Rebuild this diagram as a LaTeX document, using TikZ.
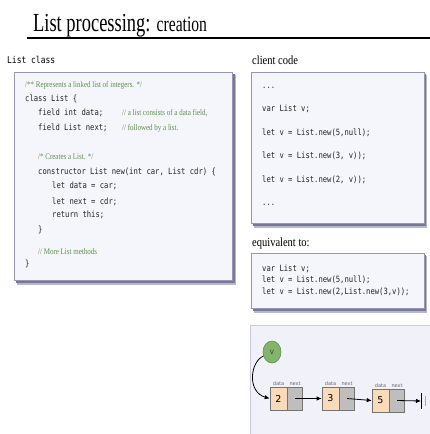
\documentclass[tikz,border=0pt]{standalone}
\usepackage{fontspec}
\setmainfont{Liberation Serif}
\newfontfamily\codefont{DejaVu Sans Mono}
\newfontfamily\labelfont{DejaVu Sans}
\usetikzlibrary{arrows.meta,shapes.geometric}

\definecolor{panelfill}{RGB}{245,245,252}
\definecolor{panelline}{RGB}{150,150,180}
\definecolor{shadowcol}{RGB}{95,95,140}
\definecolor{commentgreen}{RGB}{95,145,75}
\definecolor{codeink}{RGB}{35,35,35}
\definecolor{datafill}{RGB}{250,218,185}
\definecolor{nextfill}{RGB}{190,190,190}
\definecolor{cellline}{RGB}{115,115,115}
\definecolor{vfill}{RGB}{130,180,105}
\definecolor{vline}{RGB}{95,145,75}
\definecolor{diagfill}{RGB}{241,241,250}

% text is set tall and narrow, as on the slide
\tikzset{
  heading/.style={anchor=base west, inner sep=0pt, xscale=0.84, font=\fontsize{12.5}{14}\selectfont},
  code/.style={anchor=base west, inner sep=0pt, xscale=0.837, text=codeink, font=\codefont\fontsize{8.6}{10}\selectfont},
  comment/.style={anchor=base west, inner sep=0pt, xscale=0.814, text=commentgreen, font=\fontsize{8.6}{10}\selectfont},
  panel/.style={fill=panelfill, draw=panelline, line width=0.6pt},
  shadowsoft/.style={fill=shadowcol!45},
  shadowhard/.style={fill=shadowcol!85},
  datacell/.style={draw=cellline, fill=datafill, line width=0.6pt, minimum width=17pt, minimum height=23pt, inner sep=0pt, font=\labelfont\fontsize{9.5}{10}\selectfont},
  nextcell/.style={draw=cellline, fill=nextfill, line width=0.6pt, minimum width=15pt, minimum height=23pt, inner sep=0pt, anchor=west},
  celllabel/.style={anchor=south, inner sep=1pt, text=black!60, font=\labelfont\fontsize{5}{6}\selectfont},
  ptr/.style={-{Latex[length=5pt,width=4.5pt]}, line width=0.8pt, black},
}

\begin{document}
\begin{tikzpicture}[x=1pt,y=-1pt]
\useasboundingbox (0,0) rectangle (430,434);

% title and rule
\node[anchor=base west, inner sep=0pt, xscale=0.71] (title) at (33,31)
  {{\fontsize{26}{30}\selectfont List processing: }{\fontsize{22}{26}\selectfont creation}};
\draw[line width=1.4pt] (27,38) -- (430,38);

% section headings
\node[anchor=base west, inner sep=0pt, xscale=0.84, font=\codefont\fontsize{9.5}{11}\selectfont] (hclass) at (7,63) {List class};
\node[heading] (hclient) at (252,64) {client code};
\node[heading] (hequiv) at (252,246) {equivalent to:};

% panels with soft shadows
\fill[shadowsoft] (17,75) rectangle (236,285);
\fill[shadowhard] (16,74) rectangle (234.5,282.5);
\draw[panel] (14,72) rectangle (232,280);

\fill[shadowsoft] (254,75) rectangle (427,228);
\fill[shadowhard] (253,74) rectangle (425.5,225.5);
\draw[panel] (251,72) rectangle (424,223);

\fill[shadowsoft] (254,256) rectangle (427,313);
\fill[shadowhard] (253,255) rectangle (425.5,310.5);
\draw[panel] (251,253) rectangle (424,308);

\fill[diagfill] (250,325) rectangle (432,436);
\draw[panelline!50, line width=0.6pt] (250,436) -- (250,325) -- (432,325);

% class List
\node[comment] (c1) at (25,87.5) {/** Represents a linked list of integers. */};
\node[code] (l1) at (25,101.5) {class List \{};
\node[code] (l2) at (38,115.5) {field int data;};
\node[comment] (c2) at (122,115.5) {// a list consists of a data field,};
\node[code] (l3) at (38,130.5) {field List next;};
\node[comment] (c3) at (122,130.5) {// followed by a list.};
\node[comment] (c4) at (38,159) {/* Creates a List. */};
\node[code] (l4) at (38,174.5) {constructor List new(int car, List cdr) \{};
\node[code] (l5) at (52,188.5) {let data = car;};
\node[code] (l6) at (52,204) {let next = cdr;};
\node[code] (l7) at (52,217.5) {return this;};
\node[code] (l8) at (38,232) {\}};
\node[comment] (c5) at (38,254) {// More List methods};
\node[code] (l9) at (25,266.5) {\}};

% client code
\node[code] (k1) at (262,88) {...};
\node[code] (k2) at (262,111.5) {var List v;};
\node[code] (k3) at (262,135) {let v = List.new(5,null);};
\node[code] (k4) at (262,158.5) {let v = List.new(3, v));};
\node[code] (k5) at (262,182) {let v = List.new(2, v));};
\node[code] (k6) at (262,205) {...};

% equivalent form
\node[code] (e1) at (262,271) {var List v;};
\node[code] (e2) at (262,282.5) {let v = List.new(5,null);};
\node[code] (e3) at (262,294) {let v = List.new(2,List.new(3,v));};

% linked list picture
\node[ellipse, fill=vfill, draw=vline, line width=0.6pt, minimum width=18pt, minimum height=22pt, inner sep=0pt,
      font=\labelfont\fontsize{6}{7}\selectfont, text=black!80] (v) at (272,352) {V};

\node[datacell] (d1) at (278.5,398.5) {2};
\node[nextcell] (n1) at (d1.east) {};
\node[datacell] (d2) at (330.5,398.5) {3};
\node[nextcell] (n2) at (d2.east) {};
\node[datacell] (d3) at (380.5,400.5) {5};
\node[nextcell] (n3) at (d3.east) {};

\foreach \i in {1,2,3} {
  \node[celllabel] (dl\i) at (d\i.north) {data};
  \node[celllabel] (nl\i) at (n\i.north) {next};
}

\coordinate (nullpt) at (421,401);
\coordinate (nulltop) at (421,393);
\coordinate (nullbot) at (421,409);
\coordinate (fainttop) at (425,396);
\coordinate (faintbot) at (425,406);

\draw[ptr] (v.205) .. controls (250,362) and (247,392) .. (d1.west);
\draw[ptr] (n1.center) -- (d2.west);
\draw[ptr] (n2.center) -- (d3.west);
\draw[ptr] (n3.center) -- (nullpt);
\draw[line width=0.8pt] (nulltop) -- (nullbot);
\draw[line width=0.5pt, black!35] (fainttop) -- (faintbot);
\end{tikzpicture}
\end{document}
